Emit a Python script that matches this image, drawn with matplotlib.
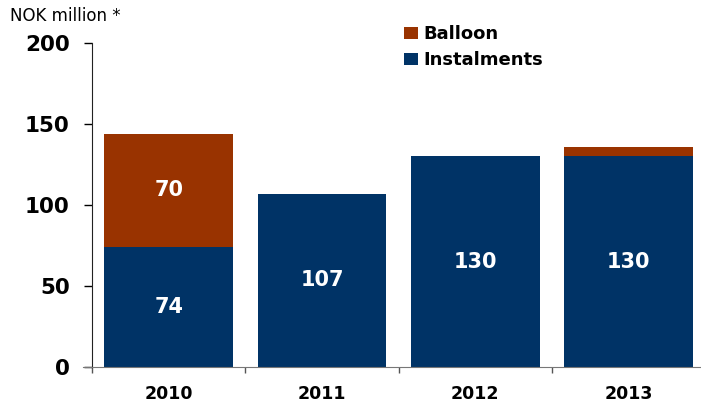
import numpy as np
import matplotlib.pyplot as plt
from matplotlib.ticker import FixedLocator

# Repayment profile, NOK million
years = ["2010", "2011", "2012", "2013"]
instalments = [74, 107, 130, 130]
balloon = [70, 0, 0, 6]

navy = "#003366"
rust = "#993300"

fig = plt.figure(figsize=(7.01, 4.07), dpi=100)
ax = fig.add_axes([92 / 701, 1 - 367 / 407, 1 - 92 / 701, 324 / 407])

x = np.arange(len(years))
b_inst = ax.bar(x, instalments, width=0.84, color=navy, label="Instalments")
b_ball = ax.bar(x, balloon, width=0.84, bottom=instalments, color=rust, label="Balloon")

# values printed inside the bars (balloon only where the segment is big enough)
for xi, v in zip(x, instalments):
    ax.text(xi, v / 2, str(v), ha="center", va="center", color="white",
            fontsize=15, fontweight="bold")
for xi, v, base in zip(x, balloon, instalments):
    if v >= 20:
        ax.text(xi, base + v / 2, str(v), ha="center", va="center", color="white",
                fontsize=15, fontweight="bold")

ax.set_xlim(-0.5, -0.5 + (701 - 92) / 153.3)
ax.set_ylim(0, 200)
ax.set_yticks([0, 50, 100, 150, 200])
ax.tick_params(axis="y", direction="out", length=6, width=1, labelsize=15.5,
               pad=10, colors="black")
for lbl in ax.get_yticklabels():
    lbl.set_fontweight("bold")

# category labels without ticks, separators between categories
ax.set_xticks(x)
ax.set_xticklabels(years, fontsize=12.5, fontweight="bold")
ax.tick_params(axis="x", which="major", length=0, pad=13)
ax.xaxis.set_minor_locator(FixedLocator([-0.5, 0.5, 1.5, 2.5]))
ax.tick_params(axis="x", which="minor", direction="out", length=4, width=1,
               color="#555555")

ax.spines["top"].set_visible(False)
ax.spines["right"].set_visible(False)
ax.spines["left"].set_color("#222222")
ax.spines["bottom"].set_color("#777777")
ax.spines["bottom"].set_bounds(-0.5 - 9 / 153.3, 4)

fig.text(10 / 701, 1 - 16 / 407, "NOK million *", fontsize=12, va="center", ha="left")

leg = fig.legend([b_ball, b_inst], ["Balloon", "Instalments"],
                 loc="upper left", bbox_to_anchor=(395 / 701, 1 - 16 / 407),
                 frameon=False, handlelength=0.78, handleheight=0.65,
                 handletextpad=0.3, labelspacing=0.45, borderpad=0,
                 prop={"size": 13, "weight": "bold"})

fig.savefig("out.png", dpi=100)
